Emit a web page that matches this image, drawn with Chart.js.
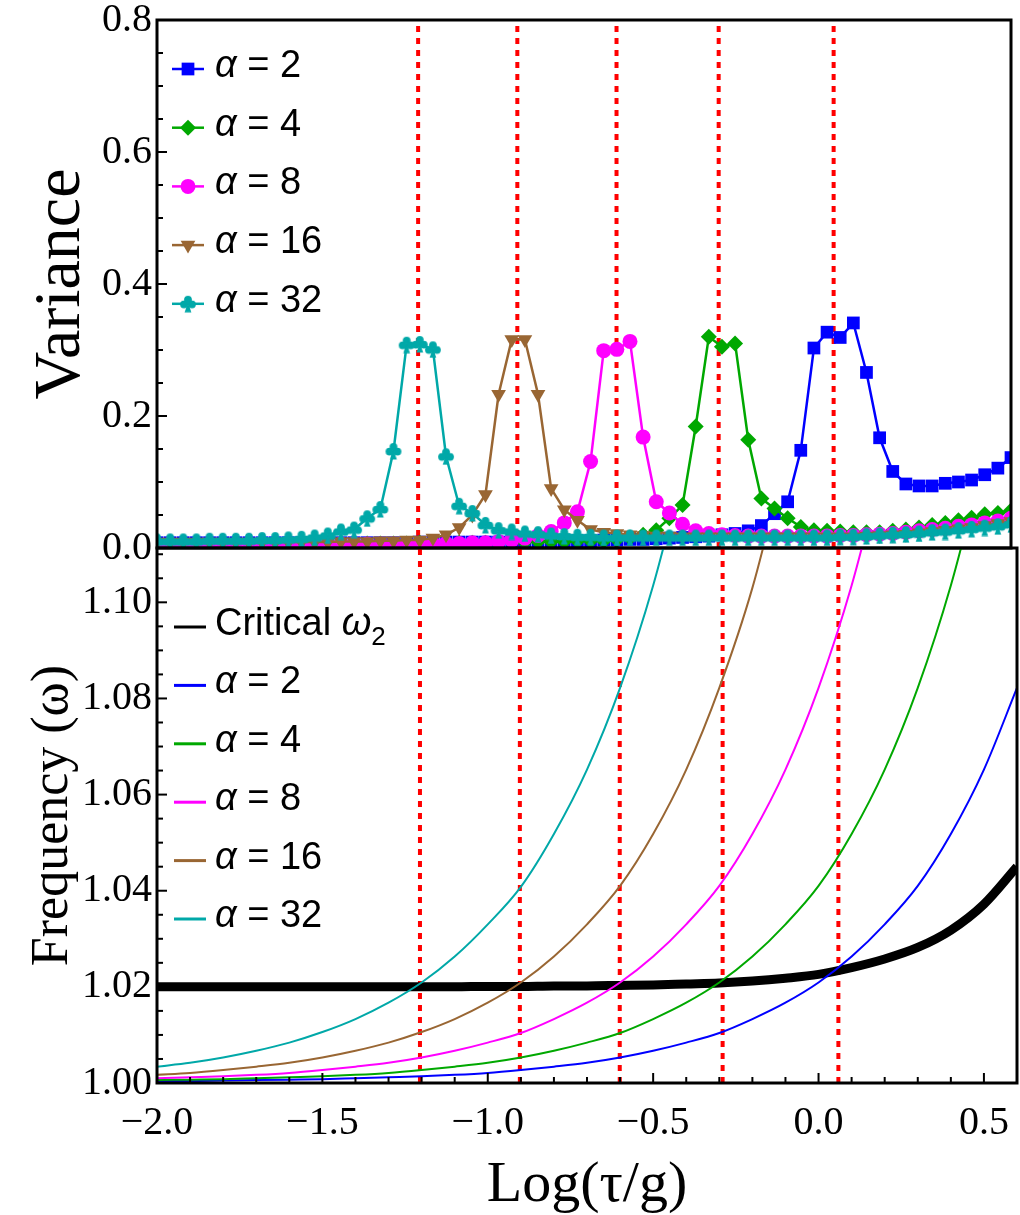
<!DOCTYPE html>
<html>
<head>
<meta charset="utf-8">
<script src="https://cdn.jsdelivr.net/npm/chart.js@4.4.0/dist/chart.umd.min.js"></script>
<style>
  body { margin: 0; background: #fff; }
  #wrap { position: relative; width: 1020px; height: 1215px; }
  #wrap canvas { position: absolute; left: 0; }
</style>
</head>
<body>
<div id="wrap">
  <canvas id="varianceChart" width="1020" height="590" style="top:0"></canvas>
  <canvas id="freqChart" width="1020" height="669" style="top:546px"></canvas>
</div>
<script>
// ---- top panel: variance vs Log(tau/g) ----
const varX = [
  -2.00, -1.96, -1.92, -1.88, -1.84, -1.80, -1.76, -1.72, -1.68, -1.64, -1.60,
  -1.56, -1.52, -1.48, -1.44, -1.40, -1.36, -1.32, -1.28, -1.24, -1.20, -1.16,
  -1.12, -1.08, -1.04, -1.00, -0.96, -0.92, -0.88, -0.84, -0.80, -0.76, -0.72,
  -0.68, -0.64, -0.60, -0.56, -0.52, -0.48, -0.44, -0.40, -0.36, -0.32, -0.28,
  -0.24, -0.20, -0.16, -0.12, -0.08, -0.04, 0.00, 0.04, 0.08, 0.12, 0.16,
  0.20, 0.24, 0.28, 0.32, 0.36, 0.40, 0.44, 0.48, 0.52, 0.56, 0.60
];
const var2 = [
  .008, .008, .008, .008, .008, .008, .008, .008, .008, .008, .008,
  .008, .008, .008, .008, .008, .008, .008, .008, .008, .009, .009,
  .009, .009, .009, .009, .009, .010, .010, .010, .010, .011, .011,
  .011, .012, .012, .013, .013, .014, .015, .016, .017, .018, .020,
  .022, .026, .034, .052, .070, .148, .303, .327, .319, .341, .266,
  .167, .116, .097, .094, .094, .098, .100, .103, .111, .121, .137
];
const var4 = [
  .007, .007, .007, .007, .007, .007, .007, .007, .007, .007, .007,
  .007, .007, .007, .007, .007, .007, .007, .007, .007, .008, .008,
  .008, .008, .008, .008, .009, .009, .009, .010, .010, .010, .011,
  .011, .011, .013, .016, .020, .027, .045, .065, .184, .320, .305,
  .310, .164, .075, .060, .045, .032, .027, .026, .025, .024, .024,
  .024, .026, .028, .031, .035, .038, .042, .046, .051, .053, .057
];
const var8 = [
  .006, .006, .006, .006, .006, .006, .006, .006, .006, .006, .006,
  .006, .006, .006, .006, .006, .006, .006, .006, .006, .006, .007,
  .007, .007, .008, .008, .010, .012, .015, .019, .025, .038, .055,
  .131, .299, .301, .313, .168, .070, .053, .036, .026, .022, .020,
  .019, .018, .018, .018, .018, .018, .018, .018, .019, .019, .020,
  .021, .022, .024, .026, .028, .030, .033, .035, .038, .041, .045
];
const var16 = [
  .009, .009, .009, .009, .009, .009, .009, .009, .009, .009, .009,
  .009, .009, .009, .010, .010, .010, .011, .011, .012, .012, .015,
  .020, .031, .050, .081, .233, .316, .316, .233, .090, .058, .042,
  .028, .024, .022, .020, .019, .018, .018, .017, .017, .017, .017,
  .017, .017, .017, .017, .017, .017, .017, .017, .017, .017, .018,
  .019, .020, .021, .023, .025, .027, .029, .031, .034, .037, .040
];
const var32 = [
  .010, .010, .010, .010, .011, .011, .011, .011, .012, .012, .013,
  .014, .016, .019, .025, .028, .045, .059, .147, .308, .309, .301,
  .139, .064, .053, .035, .027, .025, .022, .021, .019, .018, .017,
  .017, .016, .016, .016, .016, .016, .016, .016, .016, .016, .016,
  .016, .016, .016, .016, .016, .016, .016, .016, .017, .017, .018,
  .019, .020, .021, .022, .024, .025, .027, .029, .031, .033, .036
];

// ---- bottom panel: frequency curves (read every 0.1 in Log(tau/g)) ----
const freqX = [-2.0, -1.9, -1.8, -1.7, -1.6, -1.5, -1.4, -1.3, -1.2, -1.1, -1.0,
  -0.9, -0.8, -0.7, -0.6, -0.5, -0.4, -0.3, -0.2, -0.1, 0.0,
  0.1, 0.2, 0.3, 0.4, 0.5, 0.6];
const omegaCrit = [1.0200, 1.0200, 1.0200, 1.0200, 1.0200, 1.0200, 1.0200, 1.0200, 1.0200, 1.0200, 1.0201,
  1.0201, 1.0202, 1.0202, 1.0203, 1.0204, 1.0206, 1.0208, 1.0212, 1.0218, 1.0226,
  1.0240, 1.0258, 1.0282, 1.0318, 1.0372, 1.0450];
const omega2 = [1.0004, 1.0004, 1.0005, 1.0006, 1.0007, 1.0008, 1.0010, 1.0012, 1.0014, 1.0017, 1.0021,
  1.0027, 1.0034, 1.0042, 1.0053, 1.0067, 1.0084, 1.0104, 1.0133, 1.0167, 1.0209,
  1.0263, 1.0330, 1.0410, 1.0518, 1.0652, 1.0822];
const omega4 = [1.0006, 1.0007, 1.0008, 1.0010, 1.0012, 1.0014, 1.0017, 1.0021, 1.0027, 1.0034, 1.0042,
  1.0053, 1.0067, 1.0084, 1.0104, 1.0133, 1.0167, 1.0209, 1.0263, 1.0330, 1.0410,
  1.0518, 1.0652, 1.0822, 1.1035, 1.1300, null];
const omega8 = [1.0010, 1.0012, 1.0014, 1.0017, 1.0021, 1.0027, 1.0034, 1.0042, 1.0053, 1.0067, 1.0084,
  1.0104, 1.0133, 1.0167, 1.0209, 1.0263, 1.0330, 1.0410, 1.0518, 1.0652, 1.0822,
  1.1035, 1.1300, null, null, null, null];
const omega16 = [1.0017, 1.0021, 1.0027, 1.0034, 1.0042, 1.0053, 1.0067, 1.0084, 1.0106, 1.0133, 1.0167,
  1.0209, 1.0263, 1.0330, 1.0410, 1.0518, 1.0652, 1.0822, 1.1030, 1.1300, null,
  null, null, null, null, null, null];
const omega32 = [1.0034, 1.0042, 1.0053, 1.0067, 1.0084, 1.0106, 1.0133, 1.0167, 1.0209, 1.0263, 1.0330,
  1.0408, 1.0518, 1.0652, 1.0822, 1.1035, 1.1300, null, null, null, null,
  null, null, null, null, null, null];

// red dotted markers where each alpha curve meets the critical frequency
const crossX = [-1.205, -0.903, -0.601, -0.290, 0.060];

const alphaLabels = ['2', '4', '8', '16', '32'];

// ticks
const xTicks = [-2.0, -1.5, -1.0, -0.5, 0.0, 0.5];
const xMinor = [-1.9, -1.8, -1.7, -1.6, -1.4, -1.3, -1.2, -1.1, -0.9, -0.8, -0.7, -0.6,
  -0.4, -0.3, -0.2, -0.1, 0.1, 0.2, 0.3, 0.4, 0.6];
const varYTicks = [0.0, 0.2, 0.4, 0.6, 0.8];
const varYMinor = [0.05, 0.1, 0.15, 0.25, 0.3, 0.35, 0.45, 0.5, 0.55, 0.65, 0.7, 0.75];
const freqYTicks = [1.00, 1.02, 1.04, 1.06, 1.08, 1.10];
const freqYMinor = [1.005, 1.01, 1.015, 1.025, 1.03, 1.035, 1.045, 1.05, 1.055,
  1.065, 1.07, 1.075, 1.085, 1.09, 1.095, 1.105, 1.11];

const colBlue = '#0000ff', colGreen = '#00a800', colMagenta = '#ff00ff',
      colBrown = '#996633', colCyan = '#00a8a8', colRed = '#ff0000';

const serif = "'Liberation Serif', 'Times New Roman', serif";
const sans = "'Liberation Sans', Arial, sans-serif";

function makeClub(color) {
  const c = document.createElement('canvas');
  c.width = 18; c.height = 18;
  const g = c.getContext('2d');
  g.fillStyle = color;
  g.beginPath(); g.arc(9, 4.8, 3.9, 0, 2 * Math.PI); g.fill();
  g.beginPath(); g.arc(5, 9.6, 3.9, 0, 2 * Math.PI); g.fill();
  g.beginPath(); g.arc(13, 9.6, 3.9, 0, 2 * Math.PI); g.fill();
  g.beginPath(); g.moveTo(9, 8); g.lineTo(5.6, 17.5); g.lineTo(12.4, 17.5); g.closePath(); g.fill();
  return c;
}

const varianceSeries = [
  { values: var2, color: colBlue, style: 'rect', radius: 9, rotation: 0 },
  { values: var4, color: colGreen, style: 'rectRot', radius: 8, rotation: 0 },
  { values: var8, color: colMagenta, style: 'circle', radius: 7.5, rotation: 0 },
  { values: var16, color: colBrown, style: 'triangle', radius: 8.5, rotation: 180 },
  { values: var32, color: colCyan, style: makeClub(colCyan), radius: 8, rotation: 0 }
];
const freqSeries = [
  { values: omega2, color: colBlue },
  { values: omega4, color: colGreen },
  { values: omega8, color: colMagenta },
  { values: omega16, color: colBrown },
  { values: omega32, color: colCyan }
];

// inward frame ticks plus a closed frame around the plot area
const frameTicks = {
  id: 'frameTicks',
  afterDraw(chart, args, opts) {
    const { ctx, chartArea: a, scales } = chart;
    ctx.save();
    ctx.strokeStyle = '#000';
    ctx.lineWidth = 2;
    const line = (x1, y1, x2, y2) => { ctx.beginPath(); ctx.moveTo(x1, y1); ctx.lineTo(x2, y2); ctx.stroke(); };
    (opts.yMajor || []).forEach(v => { const y = scales.y.getPixelForValue(v); line(a.left, y, a.left + 10, y); });
    (opts.yMinor || []).forEach(v => { const y = scales.y.getPixelForValue(v); line(a.left, y, a.left + 6, y); });
    (opts.xMajor || []).forEach(v => { const x = scales.x.getPixelForValue(v); line(x, a.bottom, x, a.bottom - 10); });
    (opts.xMinor || []).forEach(v => { const x = scales.x.getPixelForValue(v); line(x, a.bottom, x, a.bottom - 6); });
    ctx.lineWidth = 3;
    ctx.strokeRect(a.left, a.top, a.right - a.left, a.bottom - a.top);
    ctx.restore();
  }
};

function drawParts(ctx, x, y, parts, size) {
  parts.forEach(p => {
    const fs = p.sub ? Math.round(size * 0.68) : size;
    ctx.font = (p.italic ? 'italic ' : '') + fs + 'px ' + sans;
    ctx.fillText(p.t, x, y + (p.sub ? size * 0.25 : 0));
    x += ctx.measureText(p.t).width;
  });
}

// legend drawn inside the plot, like the original
const insideLegend = {
  id: 'insideLegend',
  afterDatasetsDraw(chart, args, opts) {
    const { ctx, chartArea: a } = chart;
    ctx.save();
    ctx.textBaseline = 'alphabetic';
    ctx.fillStyle = '#000';
    opts.items.forEach((it, i) => {
      const y = a.top + opts.y0 + i * opts.step;
      ctx.strokeStyle = it.color;
      ctx.lineWidth = it.lineWidth;
      ctx.beginPath();
      ctx.moveTo(a.left + opts.x0, y);
      ctx.lineTo(a.left + opts.x1, y);
      ctx.stroke();
      if (it.style) {
        ctx.fillStyle = it.color;
        Chart.helpers.drawPoint(ctx, { pointStyle: it.style, radius: it.radius, rotation: it.rotation, borderWidth: 0 },
          a.left + (opts.x0 + opts.x1) / 2, y);
      }
      ctx.fillStyle = '#000';
      drawParts(ctx, a.left + opts.tx, y + 8, it.parts, opts.size);
    });
    ctx.restore();
  }
};

const redLines = (lo, hi) => crossX.map(x => ({
  data: [{ x: x, y: lo }, { x: x, y: hi }],
  showLine: true, borderColor: colRed, borderWidth: 4, borderDash: [6, 6],
  pointRadius: 0, order: 20
}));

const yAxis = (min, max, ticks, digits, title, titleSize) => ({
  min: min, max: max,
  afterFit: s => { s.width = 157; s.paddingTop = 0; s.paddingBottom = 0; },
  afterBuildTicks: s => { s.ticks = ticks.map(v => ({ value: v })); },
  grid: { display: false, drawTicks: false },
  border: { display: false },
  ticks: { color: '#000', padding: 5, font: { family: serif, size: 40 }, callback: v => v.toFixed(digits) },
  title: { display: true, text: title, color: '#000', font: { family: serif, size: titleSize }, padding: { top: 22, bottom: 0 } }
});

Chart.defaults.animation = false;

new Chart(document.getElementById('varianceChart'), {
  type: 'scatter',
  data: {
    datasets: varianceSeries.map((s, i) => ({
      data: varX.map((x, k) => ({ x: x, y: s.values[k] })),
      showLine: true,
      borderColor: s.color,
      backgroundColor: s.color,
      borderWidth: 2.5,
      pointStyle: s.style,
      pointRadius: s.radius,
      pointRotation: s.rotation,
      pointBorderWidth: 0,
      order: 5 - i
    })).concat(redLines(0, 0.8))
  },
  options: {
    responsive: false,
    events: [],
    layout: { padding: { top: 20, right: 3, bottom: 42, left: 0 } },
    scales: {
      x: { display: false, min: -2, max: 0.6 },
      y: yAxis(0, 0.8, varYTicks, 1, 'Variance', 66)
    },
    plugins: {
      legend: { display: false },
      tooltip: { enabled: false },
      frameTicks: { yMajor: varYTicks, yMinor: varYMinor },
      insideLegend: {
        x0: 15, x1: 47, tx: 58, y0: 49, step: 58.7, size: 38,
        items: varianceSeries.map((s, i) => ({
          color: s.color, lineWidth: 2.5, style: s.style, radius: s.radius, rotation: s.rotation,
          parts: [{ t: 'α', italic: true }, { t: ' = ' + alphaLabels[i] }]
        }))
      }
    }
  },
  plugins: [frameTicks, insideLegend]
});

new Chart(document.getElementById('freqChart'), {
  type: 'scatter',
  data: {
    datasets: freqSeries.map((s, i) => ({
      data: freqX.map((x, k) => ({ x: x, y: s.values[k] })),
      showLine: true,
      borderColor: s.color,
      borderWidth: 2,
      pointRadius: 0,
      cubicInterpolationMode: 'monotone',
      order: 5 - i
    })).concat([{
      data: freqX.map((x, k) => ({ x: x, y: omegaCrit[k] })),
      showLine: true,
      borderColor: '#000',
      borderWidth: 9,
      pointRadius: 0,
      cubicInterpolationMode: 'monotone',
      order: 10
    }]).concat(redLines(1.0, 1.1113))
  },
  options: {
    responsive: false,
    events: [],
    layout: { padding: { top: 2, right: 3, bottom: 0, left: 0 } },
    scales: {
      x: {
        min: -2, max: 0.6,
        afterFit: s => { s.height = 132; s.paddingLeft = 0; s.paddingRight = 0; },
        afterBuildTicks: s => { s.ticks = xTicks.map(v => ({ value: v })); },
        grid: { display: false, drawTicks: false },
        border: { display: false },
        ticks: {
          color: '#000', padding: 16, maxRotation: 0, autoSkip: false,
          font: { family: serif, size: 40 },
          callback: v => (v < 0 ? '\u2212' + Math.abs(v).toFixed(1) : v.toFixed(1))
        },
        title: { display: true, text: 'Log(τ/g)', color: '#000', font: { family: serif, size: 58 }, padding: { top: 0, bottom: -6 } }
      },
      y: yAxis(1.0, 1.1113, freqYTicks, 2, 'Frequency (ω)', 52)
    },
    plugins: {
      legend: { display: false },
      tooltip: { enabled: false },
      frameTicks: { yMajor: freqYTicks, yMinor: freqYMinor, xMajor: xTicks, xMinor: xMinor },
      insideLegend: {
        x0: 17, x1: 49, tx: 58, y0: 79, step: 58.4, size: 38,
        items: [{ color: '#000', lineWidth: 3, parts: [{ t: 'Critical ' }, { t: 'ω', italic: true }, { t: '2', sub: true }] }]
          .concat(freqSeries.map((s, i) => ({
            color: s.color, lineWidth: 3,
            parts: [{ t: 'α', italic: true }, { t: ' = ' + alphaLabels[i] }]
          })))
      }
    }
  },
  plugins: [frameTicks, insideLegend]
});
</script>
</body>
</html>
